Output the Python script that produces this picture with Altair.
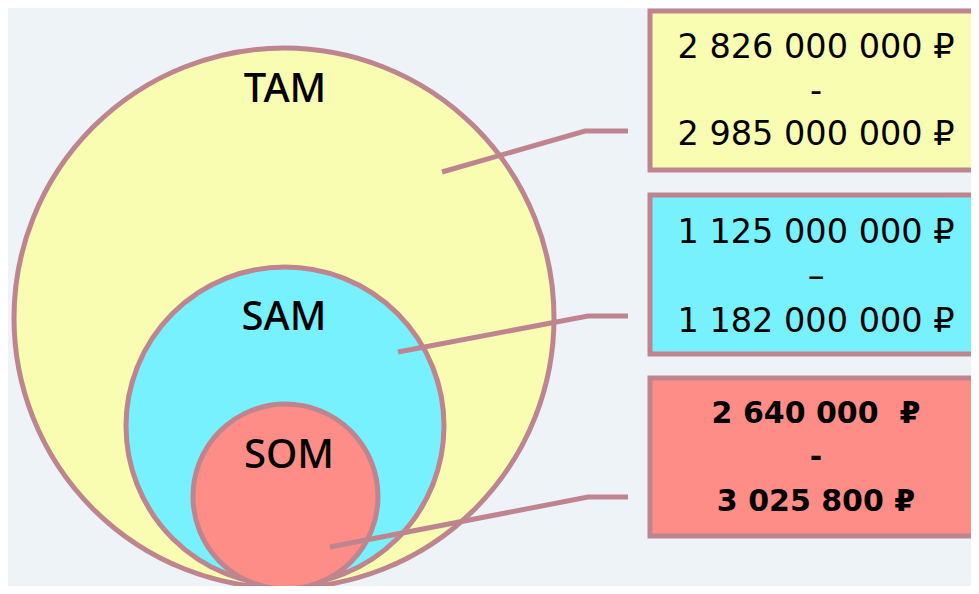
import altair as alt
import pandas as pd

# ---- content ----
segments = ["TAM", "SAM", "SOM"]
range_low = ["2 826 000 000 ₽", "1 125 000 000 ₽", "2 640 000\u00a0 ₽"]
range_sep = ["-", "–", "-"]
range_high = ["2 985 000 000 ₽", "1 182 000 000 ₽", "3 025 800 ₽"]
fills = ["#f8fdb2", "#76f1fd", "#fe8c87"]
weights = ["normal", "normal", "bold"]

# ---- diagram geometry (page pixels) ----
circle_cx = [284, 285, 285.5]
circle_cy = [318, 426, 496.5]
circle_r = [270, 159, 92.5]
label_x = [285, 284, 289]
label_y = [90, 318, 456]
box_x0 = [650, 650, 650]
box_x1 = [995, 995, 995]
box_y0 = [11, 195, 378]
box_y1 = [170, 354, 536]
line_y = [[48, 92, 135], [233, 277, 322], [414, 458, 502]]
text_x = 816
conn_start_x = [442, 398, 330]
conn_start_y = [172, 352, 547]
conn_bend_x = [585, 588, 588]
conn_bend_y = [131, 316, 497]
conn_end_x = [628, 628, 628]

STROKE = "#be858f"
BG = "#eef3f8"

W, H = 963, 578
xs = alt.Scale(domain=[8, 8 + W], zero=False, nice=False)
ys = alt.Scale(domain=[8, 8 + H], zero=False, nice=False, reverse=True)
X = lambda f: alt.X(f, type="quantitative", scale=xs, axis=None)
Y = lambda f: alt.Y(f, type="quantitative", scale=ys, axis=None)

circles = pd.DataFrame({
    "seg": segments, "x": circle_cx, "y": circle_cy,
    "size": [(2 * r) ** 2 for r in circle_r], "fill": fills, "ord": [0, 1, 2],
})
labels = pd.DataFrame({"seg": segments, "x": label_x, "y": label_y})
boxes = pd.DataFrame({"seg": segments, "x": box_x0, "x2": box_x1,
                      "y": box_y0, "y2": box_y1, "fill": fills})
texts_rows = []
for i in range(3):
    for j, t in enumerate([range_low[i], range_sep[i], range_high[i]]):
        texts_rows.append({"t": t, "x": text_x, "y": line_y[i][j], "w": weights[i]})
texts = pd.DataFrame(texts_rows)
conn_rows = []
for i in range(3):
    pts = [(conn_start_x[i], conn_start_y[i]), (conn_bend_x[i], conn_bend_y[i]),
           (conn_end_x[i], conn_bend_y[i])]
    for k, (px, py) in enumerate(pts):
        conn_rows.append({"g": segments[i], "k": k, "x": px, "y": py})
conns = pd.DataFrame(conn_rows)

circle_layer = alt.Chart(circles).mark_point(
    shape="circle", filled=True, opacity=1, fillOpacity=1,
    stroke=STROKE, strokeWidth=5, strokeOpacity=1,
).encode(
    x=X("x"), y=Y("y"),
    size=alt.Size("size:Q", scale=None),
    fill=alt.Fill("fill:N", scale=None),
    order=alt.Order("ord:Q"),
)

label_layer = alt.Chart(labels).mark_text(
    font="Noto Sans", fontSize=40, fontWeight=500, color="black",
    baseline="middle", align="center"
).encode(x=X("x"), y=Y("y"), text="seg:N")

conn_layer = alt.Chart(conns).mark_line(
    color=STROKE, strokeWidth=5, strokeCap="butt"
).encode(x=X("x"), y=Y("y"), detail="g:N", order="k:Q")

box_layer = alt.Chart(boxes).mark_rect(
    stroke=STROKE, strokeWidth=5, opacity=1
).encode(
    x=X("x"), x2="x2", y=Y("y"), y2="y2",
    fill=alt.Fill("fill:N", scale=None),
)

text_norm = alt.Chart(texts).transform_filter("datum.w == 'normal'").mark_text(
    font="DejaVu Sans", fontSize=33.5, fontWeight="normal", color="black",
    baseline="middle", align="center"
).encode(x=X("x"), y=Y("y"), text="t:N")

text_bold = alt.Chart(texts).transform_filter("datum.w == 'bold'").mark_text(
    font="DejaVu Sans", fontSize=30, fontWeight="bold", color="black",
    baseline="middle", align="center"
).encode(x=X("x"), y=Y("y"), text="t:N")

chart = alt.layer(
    circle_layer, label_layer, conn_layer, box_layer, text_norm, text_bold
).properties(
    width=W, height=H, padding=0,
    autosize=alt.AutoSizeParams(type="none"),
    background=BG,
).configure_view(stroke=None)

chart.save("out.html", embed_options={"renderer": "svg", "actions": False})
